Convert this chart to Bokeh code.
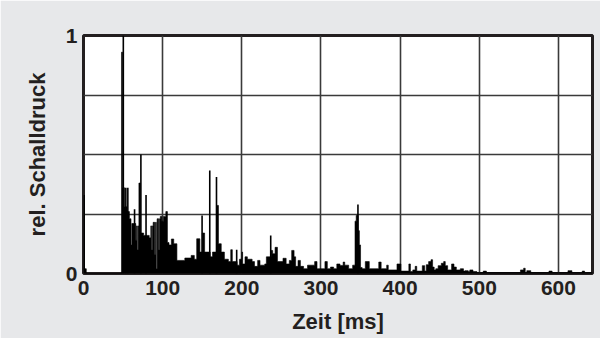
from bokeh.plotting import figure
from bokeh.models import Range1d, FixedTicker
from bokeh.embed import file_html
from bokeh.resources import INLINE

# Impulse response: stepped "floor" of reflections (start time ms, level)
floor_t = [1.5, 3.5, 48, 49.5, 52, 55, 58, 60, 61, 66, 67, 68, 69, 70, 72, 76, 83, 85, 86, 87, 88, 90, 91, 92, 93,
           95, 96, 97, 99, 101, 104, 106, 108, 111, 114, 118, 128, 136, 140, 143, 147, 150, 153, 160, 163,
           168.5, 170.5, 174, 178, 183, 186, 188, 194, 197, 200, 201, 204, 207, 213, 216, 220, 223,
           229, 231, 237, 239, 242, 245, 252, 256, 260, 263, 266, 268, 271, 274, 278, 283, 292, 295,
           305, 308, 312, 316, 320, 324, 328, 330, 335, 340, 343, 344.5, 347, 348.5, 350, 352, 356,
           361, 373, 376, 383, 385, 396, 401, 411, 413, 416, 419, 421, 428, 431, 433, 436, 439, 441,
           443, 445, 448, 452, 455, 457, 460, 465, 468, 471, 476, 480, 482, 486, 488, 492, 497, 505,
           509, 552, 556, 558, 560, 565, 588, 592, 612, 617, 630, 633]
floor_a = [0.02, 0.0, 0.93, 0.36, 0.28, 0.26, 0.23, 0.12, 0.21, 0.14, 0.20, 0.10, 0.20, 0.38, 0.17, 0.16, 0.15, 0.20,
           0.10, 0.20, 0.215, 0.08, 0.215, 0.02, 0.23, 0.10, 0.23, 0.24, 0.22, 0.24, 0.26, 0.13, 0.12, 0.145, 0.125, 0.055,
           0.065, 0.076, 0.06, 0.146, 0.09, 0.17, 0.09, 0.07, 0.09, 0.286, 0.125, 0.09, 0.06, 0.05,
           0.10, 0.05, 0.035, 0.06, 0.09, 0.04, 0.07, 0.06, 0.05, 0.03, 0.055, 0.035, 0.04, 0.07,
           0.097, 0.083, 0.11, 0.05, 0.064, 0.04, 0.055, 0.097, 0.07, 0.03, 0.055, 0.03, 0.02, 0.035,
           0.05, 0.02, 0.05, 0.02, 0.027, 0.02, 0.04, 0.034, 0.048, 0.035, 0.02, 0.035, 0.22, 0.244,
           0.18, 0.12, 0.025, 0.02, 0.05, 0.02, 0.048, 0.02, 0.035, 0.015, 0.04, 0.01, 0.04, 0.008,
           0.015, 0.03, 0.01, 0.033, 0.01, 0.037, 0.05, 0.058, 0.027, 0.015, 0.02, 0.033, 0.043,
           0.05, 0.033, 0.015, 0.04, 0.027, 0.015, 0.02, 0.01, 0.012, 0.008, 0.015, 0.008, 0.004,
           0.01, 0.004, 0.015, 0.022, 0.004, 0.012, 0.004, 0.01, 0.004, 0.012, 0.004, 0.01, 0.004]
floor_end = 643

# Individual strong reflections (time ms, relative pressure)
spike_t = [0.8, 50.3, 53.5, 56, 64.5, 72.5, 79, 149.8, 159.5, 168, 193.5, 236.5, 346.7]
spike_a = [0.33, 1.0, 0.36, 0.36, 0.27, 0.50, 0.33, 0.244, 0.433, 0.405, 0.10, 0.16, 0.29]

x_ticks = [0, 100, 200, 300, 400, 500, 600]
y_ticks = [0, 1]
y_grid = [0.25, 0.5, 0.75]

BG = "#e7e8ea"
INK = "#231f20"
FONT = "Liberation Sans"

p = figure(width=600, height=338, output_backend="svg", toolbar_location=None,
           x_range=Range1d(0, floor_end), y_range=Range1d(0, 1.0),
           min_border_left=83, min_border_right=8, min_border_top=35, min_border_bottom=65)
p.background_fill_color = "white"
p.border_fill_color = BG
p.outline_line_color = INK
p.outline_line_width = 3

# stepped outline of the reflection floor built from the data
xs = [floor_t[0]]
ys = [0]
edges = floor_t + [floor_end]
for i, a in enumerate(floor_a):
    xs += [edges[i], edges[i + 1]]
    ys += [a, a]
xs.append(edges[-1])
ys.append(0)
p.patch(xs, ys, fill_color="black", line_color="black", line_width=0.6)
p.segment(x0=spike_t, y0=[0] * len(spike_t), x1=spike_t, y1=spike_a,
          line_color="black", line_width=1.6)

p.xaxis.ticker = FixedTicker(ticks=x_ticks)
p.yaxis.ticker = FixedTicker(ticks=y_ticks)
p.xgrid.ticker = FixedTicker(ticks=x_ticks)
p.ygrid.ticker = FixedTicker(ticks=y_grid)
for g in (p.xgrid, p.ygrid):
    g.grid_line_color = "#3a3a3a"
    g.grid_line_width = 1.6

for ax in (p.xaxis, p.yaxis):
    ax.axis_line_color = None
    ax.major_tick_line_color = None
    ax.minor_tick_line_color = None
    ax.major_tick_out = 0
    ax.major_tick_in = 0
    ax.major_label_text_font = FONT
    ax.major_label_text_font_style = "bold"
    ax.major_label_text_font_size = "21px"
    ax.major_label_text_color = INK
    ax.axis_label_text_font = FONT
    ax.axis_label_text_font_style = "bold"
    ax.axis_label_text_font_size = "22px"
    ax.axis_label_text_color = INK

p.xaxis.axis_label = "Zeit [ms]"
p.yaxis.axis_label = "rel. Schalldruck"
p.xaxis.major_label_standoff = 7
p.yaxis.major_label_standoff = 6
p.xaxis.axis_label_standoff = 11
p.yaxis.axis_label_standoff = 13

open("out.html", "w").write(file_html(p, INLINE))
